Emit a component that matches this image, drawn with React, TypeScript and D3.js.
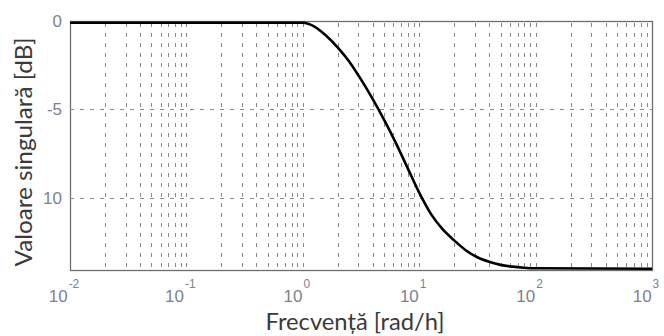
import React, { useEffect, useRef } from 'react';
import * as d3 from 'd3';

// frecventa [rad/h] si valoarea singulara [dB]
const freq = [0.01, 1, 1.26, 1.58, 2.0, 2.51, 3.16, 3.98, 5.01, 6.31, 7.94, 10, 12.6, 15.8, 20, 25.1, 31.6, 39.8, 50.1, 63.1, 79.4, 100, 1000];
const sv = [-0.1, -0.1, -0.32, -0.82, -1.5, -2.3, -3.3, -4.4, -5.6, -6.9, -8.3, -9.7, -10.9, -11.75, -12.4, -12.95, -13.35, -13.6, -13.78, -13.88, -13.94, -13.97, -14.0];

const xTickExp = [-2, -1, 0, 1, 2, 3];
const yTicks = [0, -5, -10];
const yTickLabels = ['0', '-5', '10'];

const left = 70, right = 652, top = 21, bottom = 270;

export default function App() {
    const ref = useRef<SVGGElement>(null);

    useEffect(() => {
        const g = d3.select(ref.current);
        g.selectAll('*').remove();

        const x = d3.scaleLog().domain([0.01, 1000]).range([left, right]);
        const y = d3.scaleLinear().domain([-14.07, 0]).range([bottom, top]);

        // grid vertical (decade + minore)
        const vlines: number[] = [];
        for (let e = -2; e < 3; e++) {
            for (let m = 1; m < 10; m++) {
                const v = m * Math.pow(10, e);
                if (v > 0.01) vlines.push(v);
            }
        }
        g.selectAll('.vg')
            .data(vlines)
            .enter()
            .append('line')
            .attr('class', 'vg')
            .attr('x1', (d) => Math.round(x(d)) + 0.5)
            .attr('x2', (d) => Math.round(x(d)) + 0.5)
            .attr('y1', top + 2)
            .attr('y2', bottom)
            .attr('stroke', '#8a8a8a')
            .attr('stroke-width', 1)
            .attr('stroke-dasharray', '4,6');

        g.selectAll('.hg')
            .data(yTicks.slice(1))
            .enter()
            .append('line')
            .attr('class', 'hg')
            .attr('x1', left)
            .attr('x2', right)
            .attr('y1', (d) => Math.round(y(d)) + 0.5)
            .attr('y2', (d) => Math.round(y(d)) + 0.5)
            .attr('stroke', '#8a8a8a')
            .attr('stroke-width', 1)
            .attr('stroke-dasharray', '4,6');

        const line = d3
            .line<number>()
            .x((d, i) => x(freq[i]))
            .y((d) => y(d))
            .curve(d3.curveMonotoneX);

        g.append('path')
            .attr('d', line(sv))
            .attr('fill', 'none')
            .attr('stroke', '#000')
            .attr('stroke-width', 2.6);

        // etichete x 10^e
        xTickExp.forEach((e) => {
            const t = g
                .append('text')
                .attr('x', x(Math.pow(10, e)) - 6)
                .attr('y', 302)
                .attr('text-anchor', 'middle')
                .attr('font-family', 'Liberation Sans')
                .attr('font-size', 17)
                .attr('fill', '#7d8190');
            t.append('tspan').text('10');
            t.append('tspan').attr('dy', -14).attr('dx', 1).attr('font-size', 12).text(String(e));
        });

        // etichete y
        g.selectAll('.yl')
            .data(yTicks)
            .enter()
            .append('text')
            .attr('class', 'yl')
            .attr('x', 62)
            .attr('y', (d) => y(d) + 6)
            .attr('text-anchor', 'end')
            .attr('font-family', 'Liberation Sans')
            .attr('font-size', 17)
            .attr('fill', '#7d8190')
            .text((d, i) => yTickLabels[i]);

        // titluri
        g.append('text')
            .attr('x', 355)
            .attr('y', 330)
            .attr('text-anchor', 'middle')
            .attr('font-family', 'Lato')
            .attr('font-size', 23)
            .attr('fill', '#3a3a3a')
            .attr('textLength', 179)
            .attr('lengthAdjust', 'spacingAndGlyphs')
            .text('Frecvență [rad/h]');

        g.append('text')
            .attr('transform', 'translate(32,152) rotate(-90)')
            .attr('text-anchor', 'middle')
            .attr('font-family', 'Lato')
            .attr('font-size', 23)
            .attr('fill', '#3a3a3a')
            .attr('textLength', 229)
            .attr('lengthAdjust', 'spacingAndGlyphs')
            .text('Valoare singulară [dB]');
    }, []);

    return (
        <svg width={664} height={336} style={{ position: 'absolute', left: 0, top: 0, background: '#fff' }}>
            {/* chenar */}
            <rect
                x={left + 0.5}
                y={top + 0.5}
                width={right - left}
                height={bottom - top}
                fill="none"
                stroke="#6e6e6e"
                strokeWidth={1.3}
            />
            <g ref={ref} />
        </svg>
    );
}
